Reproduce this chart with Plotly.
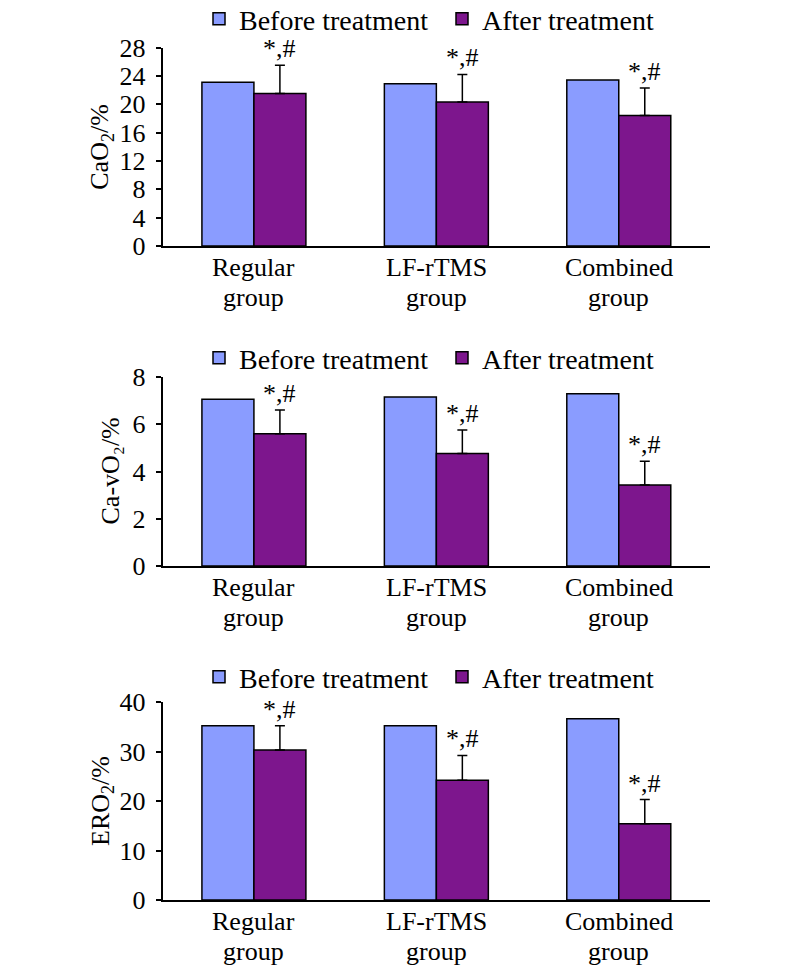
import plotly.graph_objects as go

# ---------------- data ----------------
categories = ["Regular group", "LF-rTMS group", "Combined group"]
cat_line1 = ["Regular", "LF-rTMS", "Combined"]
cat_line2 = ["group", "group", "group"]
series_names = ["Before treatment", "After treatment"]

cao2_before = [23.1, 22.9, 23.4]
cao2_after = [21.5, 20.3, 18.4]
cao2_after_err = [4.0, 3.9, 3.9]

cavo2_before = [7.06, 7.15, 7.29]
cavo2_after = [5.6, 4.76, 3.43]
cavo2_after_err = [1.0, 1.0, 1.0]

ero2_before = [35.2, 35.2, 36.6]
ero2_after = [30.3, 24.2, 15.4]
ero2_after_err = [4.9, 5.0, 4.9]

sig_label = "*,#"

y_titles = ["CaO<sub>2</sub>/%", "Ca-vO₂/%", "ERO<sub>2</sub>/%"]
y_ranges = [[0, 28], [0, 8], [0, 40]]
y_dticks = [4, 2, 10]

# ---------------- style ----------------
FONT = "Liberation Serif"
C_BEFORE = "#8A9CFF"
C_AFTER = "#7D168D"
W, H = 794, 975

def py(px):
    return 1 - px / H

x_domain = [162.7 / W, 710 / W]
# panel pixel extents (top, bottom)
panels_px = [(47.5, 246), (377, 566), (702, 900)]
legend_y_px = [19, 358, 677]
ytitle_x_px = [101, 110, 102]

panels = [
    (cao2_before, cao2_after, cao2_after_err),
    (cavo2_before, cavo2_after, cavo2_after_err),
    (ero2_before, ero2_after, ero2_after_err),
]

fig = go.Figure()
annotations = []
layout_extra = {}

for i, (before, after, err) in enumerate(panels):
    n = "" if i == 0 else str(i + 1)
    xa, ya = "x" + n, "y" + n
    lg = "legend" + n
    fig.add_trace(go.Bar(
        x=categories, y=before, name=series_names[0],
        marker=dict(color=C_BEFORE, line=dict(color="black", width=1.5)),
        xaxis=xa, yaxis=ya, legend=lg,
    ))
    fig.add_trace(go.Bar(
        x=categories, y=after, name=series_names[1],
        marker=dict(color=C_AFTER, line=dict(color="black", width=1.5)),
        error_y=dict(type="data", array=err, arrayminus=[0] * len(err),
                     symmetric=False, color="black", thickness=1.5, width=5),
        xaxis=xa, yaxis=ya, legend=lg,
    ))
    top, bot = panels_px[i]
    layout_extra["xaxis" + n] = dict(
        domain=x_domain, anchor=ya, showticklabels=False, ticks="",
        showline=True, linecolor="black", linewidth=2, showgrid=False,
        zeroline=False, range=[-0.5, 2.5], fixedrange=True,
    )
    layout_extra["yaxis" + n] = dict(
        domain=[py(bot), py(top)], anchor=xa, range=y_ranges[i], dtick=y_dticks[i],
        ticks="outside", ticklen=5, tickwidth=1.5, tickcolor="black",
        showline=True, linecolor="black", linewidth=2, showgrid=False,
        zeroline=False, tickfont=dict(family=FONT, size=26, color="black"),
        ticklabelstandoff=5, fixedrange=True,
    )
    layout_extra[lg] = dict(
        orientation="h", x=199 / W, xanchor="left", y=py(legend_y_px[i]),
        yanchor="middle", font=dict(family=FONT, size=28, color="black"),
        bgcolor="rgba(0,0,0,0)", itemwidth=30, entrywidth=198,
        entrywidthmode="pixels", traceorder="normal",
    )
    # y title
    annotations.append(dict(
        text=y_titles[i], xref="paper", yref="paper",
        x=ytitle_x_px[i] / W, y=py((top + bot) / 2), textangle=-90,
        xanchor="center", yanchor="middle", showarrow=False,
        font=dict(family=FONT, size=26, color="black"),
    ))
    # category labels (two lines)
    for c, l1, l2 in zip(categories, cat_line1, cat_line2):
        annotations.append(dict(
            text=l1, xref=xa, yref=ya, x=c, y=0, yshift=-21, borderpad=0,
            xanchor="center", yanchor="middle", showarrow=False,
            font=dict(family=FONT, size=26, color="black"),
        ))
        annotations.append(dict(
            text=l2, xref=xa, yref=ya, x=c, y=0, yshift=-51, borderpad=0,
            xanchor="center", yanchor="middle", showarrow=False,
            font=dict(family=FONT, size=26, color="black"),
        ))
    # significance marks over "after" bars
    for j, c in enumerate(categories):
        annotations.append(dict(
            text=sig_label, xref=xa, yref=ya, x=c, xshift=26,
            y=after[j] + err[j], yshift=0,
            xanchor="center", yanchor="bottom", showarrow=False,
            font=dict(family=FONT, size=26, color="black"),
        ))

fig.update_layout(
    width=W, height=H,
    margin=dict(l=0, r=0, t=0, b=0, pad=0, autoexpand=False),
    paper_bgcolor="white", plot_bgcolor="white",
    barmode="group", bargap=0.43, bargroupgap=0,
    annotations=annotations, showlegend=True,
    **layout_extra,
)

fig.write_html(
    "out.html",
    config={"displayModeBar": False},
    post_script="document.body.style.margin='0px';",
)
